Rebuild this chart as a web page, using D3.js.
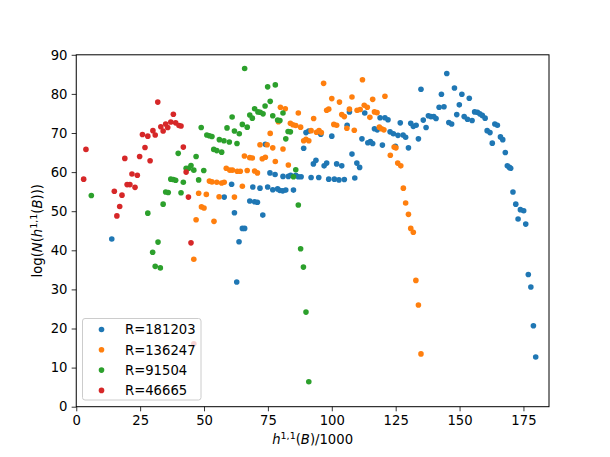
<!DOCTYPE html>
<html>
<head>
<meta charset="utf-8">
<script src="https://cdn.jsdelivr.net/npm/d3@7"></script>
<style>
body { margin: 0; background: #fff; }
text { font-family: "DejaVu Sans", sans-serif; }
</style>
</head>
<body>
<div id="chart"></div>
<script>
/* data: [h11/1000, log N] */
var labels = ["R=181203", "R=136247", "R=91504", "R=46665"];
var colors = ["#1f77b4", "#ff7f0e", "#2ca02c", "#d62728"];
var xTicks = [0, 25, 50, 75, 100, 125, 150, 175];
var yTicks = [0, 10, 20, 30, 40, 50, 60, 70, 80, 90];

var pts181203 = [
	[13.9,42.9],[60.8,56.9],[57.9,53.6],[61.9,49.6],[63.7,42.2],[62.8,31.9],[65.0,45.6],[65.9,45.6],
	[69.1,56.2],[71.9,55.9],[74.9,56.2],[76.9,55.5],[78.8,55.7],[79.7,55.3],[80.8,55.2],[82.0,55.4],[85.0,55.4],
	[67.9,52.6],[69.8,52.4],[70.9,52.3],[73.0,49.0],[75.8,59.8],[77.8,59.4],[80.9,58.9],[83.0,58.9],[83.9,59.2],
	[85.9,59.2],[86.9,58.8],[88.0,58.8],[91.9,58.6],[94.9,58.6],[98.8,58.2],[101.0,58.2],[102.8,58.0],[104.9,58.1],
	[109.0,58.5],[92.8,62.1],[93.8,63.0],[97.0,61.6],[98.0,62.3],[101.9,62.1],[103.9,61.6],[109.8,62.3],[110.9,61.2],
	[107.9,64.6],[89.0,66.1],[89.9,70.1],[91.0,70.5],[95.7,69.7],[100.0,69.2],[106.0,72.0],[106.9,75.4],[112.9,75.1],
	[111.8,68.5],[114.1,67.5],[115.1,67.8],[116.0,67.3],[116.7,71.1],[117.8,70.8],[118.9,73.9],[120.8,73.9],[122.0,73.4],
	[119.8,66.9],[122.8,70.3],[124.1,69.8],[126.8,72.6],[124.9,66.6],[125.9,69.4],[127.9,69.5],[128.9,68.9],[130.0,66.2],
	[130.9,72.5],[131.9,71.7],[133.0,72.0],[133.9,68.5],[134.9,81.2],[135.8,73.3],[136.9,71.4],[137.8,74.4],[138.8,74.2],
	[139.9,74.2],[140.8,73.7],[142.0,76.6],[143.9,76.7],[142.9,79.9],[145.0,85.2],[145.8,72.7],[146.9,72.3],[148.0,81.5],
	[148.9,74.7],[149.9,77.2],[150.9,79.9],[151.8,74.2],[153.1,73.5],[153.8,78.9],[154.9,73.2],[155.9,75.4],[157.0,75.3],
	[157.9,74.9],[158.9,74.5],[160.0,73.8],[160.8,70.6],[161.9,70.1],[162.8,67.4],[163.8,72.3],[164.8,72.0],[166.0,69.0],
	[166.9,68.3],[167.9,65.0],[168.7,61.6],[169.5,61.2],[170.0,61.0],[170.9,54.9],[172.0,51.8],[173.8,50.4],[175.1,50.1],
	[172.9,48.0],[175.9,46.7],[176.9,33.8],[177.9,30.6],[178.9,20.7],[179.8,12.7],[74.0,67.1]
];
var pts136247 = [
	[58.7,61.0],[60.1,60.5],[61.1,60.5],[63.0,60.2],[64.2,60.2],[52.1,57.7],[53.1,57.5],[55.0,57.4],[56.9,57.2],[57.9,57.4],
	[47.9,54.6],[50.9,54.3],[55.9,53.7],[61.9,53.6],[49.0,51.1],[50.0,50.8],[46.9,47.8],[53.9,47.4],[46.0,37.7],
	[96.8,82.7],[112.0,83.6],[100.0,78.8],[103.0,77.9],[107.9,79.2],[116.0,78.6],[120.8,79.4],[98.0,75.8],[98.8,76.1],
	[106.9,76.1],[109.9,75.8],[111.1,76.0],[112.7,77.1],[113.9,76.6],[116.7,75.4],[117.7,75.2],[79.9,76.6],[81.8,76.2],
	[86.9,75.1],[103.9,74.7],[104.9,74.2],[114.9,74.0],[79.1,72.9],[92.9,73.7],[83.8,72.5],[84.8,72.1],[85.9,71.9],
	[87.8,71.5],[100.8,72.2],[101.9,72.0],[105.9,71.2],[118.6,71.5],[119.5,71.1],[120.4,70.8],[108.8,70.7],[91.9,70.6],
	[94.0,70.2],[95.0,70.6],[95.9,70.1],[75.9,69.9],[89.9,68.4],[89.0,68.0],[91.0,68.0],[71.9,67.0],[74.7,67.0],
	[76.9,66.2],[80.9,65.9],[124.4,66.4],[125.1,66.2],[65.8,64.1],[67.9,63.7],[68.9,63.6],[72.8,63.4],[74.0,63.8],
	[77.9,62.7],[122.9,64.3],[125.8,62.3],[127.0,61.6],[83.0,61.8],[66.9,60.4],[69.8,60.3],[70.9,59.8],[65.0,56.4],
	[130.9,45.6],[131.9,44.6],[132.9,32.3],[133.9,26.0],[134.9,13.5],[128.0,55.9],[128.9,52.1],[130.0,49.2]
];
var pts91504 = [
	[5.9,54.0],[28.0,49.5],[34.0,51.8],[35.0,54.9],[36.0,54.8],[41.0,54.7],[41.9,57.4],[37.0,58.2],[38.0,58.1],[38.9,57.9],
	[47.9,58.0],[43.0,61.0],[44.0,61.0],[44.9,61.7],[46.0,60.5],[49.9,60.4],[46.9,64.0],[39.9,64.8],[53.8,65.8],[55.0,65.5],
	[56.9,65.1],[48.9,71.4],[51.1,69.5],[52.1,69.3],[53.1,69.1],[56.0,68.3],[57.8,68.0],[59.9,67.7],[62.9,67.3],[59.0,71.3],
	[61.9,70.5],[63.8,69.8],[61.0,74.1],[32.0,42.1],[29.9,39.5],[30.9,35.9],[32.9,35.5],[65.9,86.5],[74.9,81.8],[77.9,82.3],
	[75.9,78.1],[73.9,76.9],[69.8,76.2],[71.1,75.4],[72.0,75.3],[73.1,74.9],[67.9,74.6],[68.9,73.8],[76.9,74.4],[80.9,75.1],
	[78.8,73.3],[79.7,73.2],[65.0,72.2],[66.9,71.5],[82.9,70.4],[83.8,70.3],[82.0,68.5],[85.9,60.6],[85.0,58.8],[86.9,51.6],
	[87.8,40.4],[88.9,35.7],[89.9,24.2],[91.0,6.4]
];
var pts46665 = [
	[3.8,65.8],[2.9,58.2],[31.9,77.9],[38.0,74.8],[37.0,72.8],[38.9,72.6],[40.2,71.9],[41.0,71.8],[35.0,72.3],[33.1,71.6],
	[35.8,71.4],[34.0,70.5],[30.0,70.6],[25.9,69.6],[28.0,69.2],[30.9,69.5],[41.9,66.4],[26.9,66.3],[19.0,63.5],[24.8,64.0],
	[28.9,62.9],[43.0,60.0],[21.8,59.5],[23.9,59.2],[19.9,56.8],[21.0,56.8],[23.0,56.1],[14.9,55.1],[17.9,54.1],[43.9,53.6],
	[17.0,51.2],[15.9,48.8],[44.9,41.9],[46.0,16.1]
];
var series = [pts181203, pts136247, pts91504, pts46665];

var W = 610, H = 457;
var margin = {left: 76.25, right: 61, top: 54.8, bottom: 50.3};

var svg = d3.select("#chart").append("svg")
	.attr("width", W)
	.attr("height", H);

var x = d3.scaleLinear().domain([0, 185]).range([margin.left, W - margin.right]);
var y = d3.scaleLinear().domain([0, 90]).range([H - margin.bottom, margin.top]);

// points
for (var s = 0; s < series.length; s += 1){
	svg.append("g")
		.selectAll("circle")
		.data(series[s])
		.enter().append("circle")
		.attr("cx", function(d){ return x(d[0]); })
		.attr("cy", function(d){ return y(d[1]); })
		.attr("r", 2.8)
		.attr("fill", colors[s]);
}

// axes
var xAxis = svg.append("g")
	.attr("transform", "translate(0," + (H - margin.bottom) + ")")
	.call(d3.axisBottom(x).tickValues(xTicks).tickSize(4.6).tickPadding(4.2).tickSizeOuter(0));
var yAxis = svg.append("g")
	.attr("transform", "translate(" + margin.left + ",0)")
	.call(d3.axisLeft(y).tickValues(yTicks).tickSize(4.6).tickPadding(4.2).tickSizeOuter(0));
[xAxis, yAxis].forEach(function(a){
	a.selectAll("text").attr("font-size", "13.2px").attr("font-family", "DejaVu Sans").attr("fill", "#000");
	a.selectAll("line").attr("stroke", "#000").attr("stroke-width", 0.8);
	a.select(".domain").remove();
});

// frame
svg.append("rect")
	.attr("x", margin.left)
	.attr("y", margin.top)
	.attr("width", W - margin.right - margin.left)
	.attr("height", H - margin.bottom - margin.top)
	.attr("fill", "none")
	.attr("stroke", "#000")
	.attr("stroke-width", 1);

// axis labels
var xl = svg.append("text")
	.attr("x", (margin.left + W - margin.right)/2)
	.attr("y", 444)
	.attr("text-anchor", "middle")
	.attr("font-size", "13.2px");
xl.append("tspan").attr("font-style", "italic").text("h");
xl.append("tspan").attr("font-size", "9.5px").attr("dy", -5).text("1,1");
xl.append("tspan").attr("dy", 5).text("(");
xl.append("tspan").attr("font-style", "italic").text("B");
xl.append("tspan").text(")/1000");

var yl = svg.append("text")
	.attr("transform", "translate(42," + ((margin.top + H - margin.bottom)/2) + ")rotate(-90)")
	.attr("text-anchor", "middle")
	.attr("font-size", "13.2px");
yl.append("tspan").text("log(");
yl.append("tspan").attr("font-style", "italic").text("N");
yl.append("tspan").text("(");
yl.append("tspan").attr("font-style", "italic").text("h");
yl.append("tspan").attr("font-size", "9.5px").attr("dy", -5).text("1,1");
yl.append("tspan").attr("dy", 5).text("(");
yl.append("tspan").attr("font-style", "italic").text("B");
yl.append("tspan").text(")))");

// legend
var lg = svg.append("g").attr("transform", "translate(82.5,318.5)");
lg.append("rect")
	.attr("width", 118.5)
	.attr("height", 81.5)
	.attr("rx", 2.5)
	.attr("fill", "#fff")
	.attr("fill-opacity", 0.8)
	.attr("stroke", "#cccccc")
	.attr("stroke-width", 1);
for (var i = 0; i < labels.length; i += 1){
	lg.append("circle")
		.attr("cx", 19)
		.attr("cy", 11 + i*20.3)
		.attr("r", 2.8)
		.attr("fill", colors[i]);
	lg.append("text")
		.attr("x", 42.5)
		.attr("y", 11 + i*20.3 + 4.8)
		.attr("font-size", "13.2px")
		.text(labels[i]);
}
</script>
</body>
</html>
